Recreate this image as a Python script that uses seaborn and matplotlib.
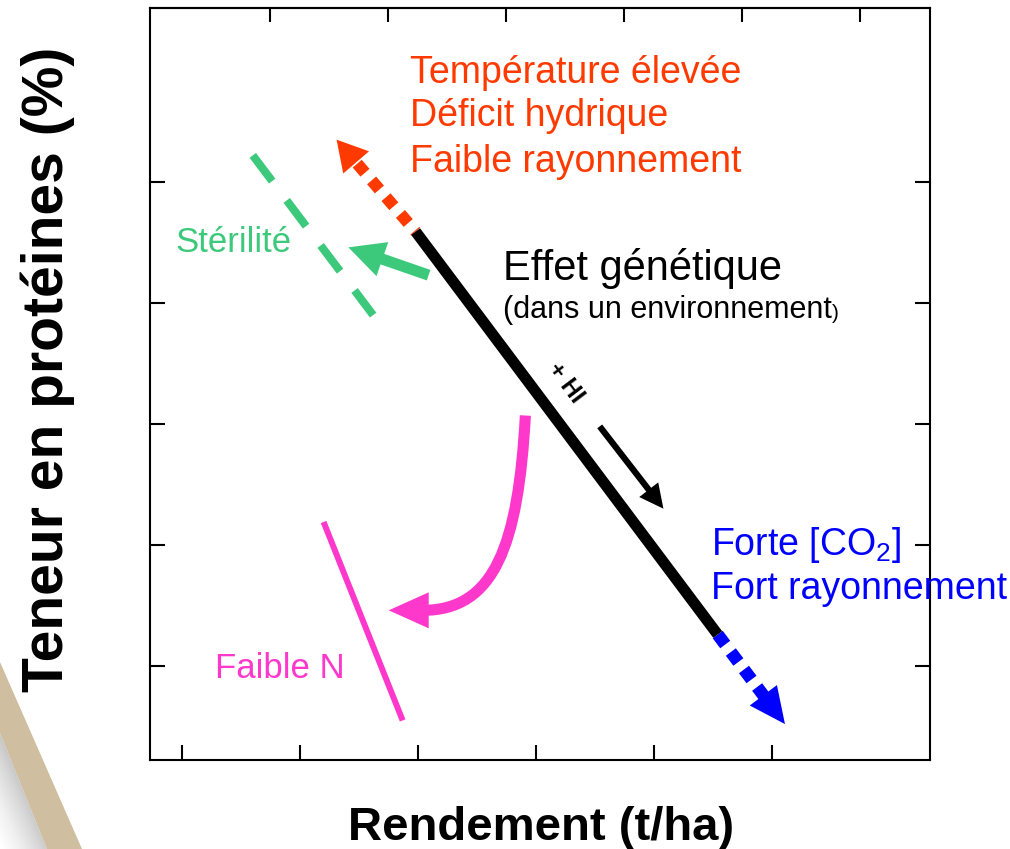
import numpy as np
import matplotlib
matplotlib.use("Agg")
import matplotlib.pyplot as plt
import seaborn as sns
from matplotlib.patches import Polygon, PathPatch
from matplotlib.path import Path

sns.set_style("ticks")
plt.rcParams['font.family'] = ['Liberation Sans', 'DejaVu Sans']
plt.rcParams['mathtext.fontset'] = 'custom'
plt.rcParams['mathtext.rm'] = 'Liberation Sans'
plt.rcParams['mathtext.it'] = 'Liberation Sans'
plt.rcParams['text.color'] = 'black'

# ---- data (conceptual diagram, arbitrary units) ----
x_ticks_bottom = [1, 2, 3, 4, 5, 6]
x_ticks_top = [1.75, 2.75, 3.75, 4.75, 5.75, 6.75]
y_ticks = [1, 2, 3, 4, 5]

# genetic effect: yield / protein trade-off
genetic_x = [2.98, 5.54]
genetic_y = [4.59, 1.26]
# unfavourable environment (red, dotted, up-left)
stress_x = [2.98, 2.31]
stress_y = [4.59, 5.35]
# favourable environment (blue, dotted, down-right)
favour_x = [5.54, 6.11]
favour_y = [1.26, 0.52]
# sterility (green)
sterility_x = [1.60, 2.62]
sterility_y = [5.22, 3.90]
sterility_arrow_x = [3.09, 2.41]
sterility_arrow_y = [4.23, 4.46]
# low N (pink)
low_n_x = [2.20, 2.87]
low_n_y = [2.19, 0.55]
low_n_curve_x = [3.91, 3.85, 3.65, 3.04]
low_n_curve_y = [3.07, 2.00, 1.46, 1.46]
# harvest index arrow
hi_x = [4.54, 5.08]
hi_y = [2.98, 2.30]

stress_labels = ["Température élevée", "Déficit hydrique", "Faible rayonnement"]
stress_label_y = [5.82, 5.46, 5.08]
favour_labels = ["Forte [CO$_2$]", "Fort rayonnement"]
favour_label_y = [1.92, 1.55]

RED = "#FF3A00"
GREEN = "#3CC97C"
PINK = "#FF38CC"
BLUE = "#0000FF"

fig = plt.figure(figsize=(10.1, 8.49), dpi=100)

# decorative band bottom-left (slide background)
bg = fig.add_axes([0, 0, 1, 1], zorder=0)
bg.set_xlim(0, 1010)
bg.set_ylim(849, 0)
bg.axis('off')
grey = Polygon([(0, 733), (47, 849), (0, 849)], closed=True, facecolor='none', edgecolor='none')
bg.add_patch(grey)
gx, gy = np.meshgrid(np.linspace(0, 50, 60), np.linspace(730, 849, 120))
dist = np.abs(187 * gx - 82 * (gy - 733)) / np.hypot(82, 187)
shade = bg.imshow(dist, extent=[0, 50, 849, 730], cmap='Greys_r', vmin=-90, vmax=45,
                  aspect='auto', interpolation='bilinear')
shade.set_clip_path(grey)
bg.add_patch(Polygon([(0, 662), (82, 849), (47, 849), (0, 733)], closed=True,
                     facecolor='#CFBE9F', edgecolor='none'))

ax = fig.add_axes([150 / 1010, 1 - 760 / 849, 780 / 1010, 752 / 849], zorder=1)
ax.set_xlim(0.729, 7.339)
ax.set_ylim(0.223, 6.438)


def to_px(p):
    return ax.transData.transform(p)


def to_data(p):
    return ax.transData.inverted().transform(p)


def arrow_head(tail, tip, color, length, width, z):
    t = to_px(tip)
    b = to_px(tail)
    u = (t - b) / np.hypot(*(t - b))
    n = np.array([-u[1], u[0]])
    base = t - u * length
    verts = to_data(np.array([t, base + n * width / 2, base - n * width / 2]))
    ax.add_patch(Polygon(verts, closed=True, facecolor=color, edgecolor='none', zorder=z))


def pulled_back(tail, tip, d):
    t = to_px(tip)
    b = to_px(tail)
    u = (t - b) / np.hypot(*(t - b))
    return to_data(t - u * d)


# genetic line
sns.lineplot(x=genetic_x, y=genetic_y, color='black', linewidth=8, sort=False,
             solid_capstyle='butt', ax=ax, zorder=5)

# red dotted extension + head
s_end = pulled_back((stress_x[0], stress_y[0]), (stress_x[1], stress_y[1]), 14)
ax.plot([stress_x[0], s_end[0]], [stress_y[0], s_end[1]], color=RED, lw=8.6,
        linestyle=(0.9, (1.0, 0.85)), dash_capstyle='butt', zorder=4)
arrow_head((stress_x[0], stress_y[0]), (stress_x[1], stress_y[1]), RED, 30, 34, 4)

# blue dotted extension + head
f_end = pulled_back((favour_x[0], favour_y[0]), (favour_x[1], favour_y[1]), 16)
ax.plot([favour_x[0], f_end[0]], [favour_y[0], f_end[1]], color=BLUE, lw=9,
        linestyle=(0, (1.0, 0.75)), dash_capstyle='butt', zorder=4)
arrow_head((favour_x[0], favour_y[0]), (favour_x[1], favour_y[1]), BLUE, 36, 34, 4)

# sterility dashed line + arrow
sns.lineplot(x=sterility_x, y=sterility_y, color=GREEN, linewidth=5.8, sort=False,
             linestyle=(0, (4, 3)), dash_capstyle='butt', ax=ax, zorder=3)
g_end = pulled_back((sterility_arrow_x[0], sterility_arrow_y[0]),
                    (sterility_arrow_x[1], sterility_arrow_y[1]), 18)
ax.plot([sterility_arrow_x[0], g_end[0]], [sterility_arrow_y[0], g_end[1]], color=GREEN,
        lw=8, solid_capstyle='butt', zorder=3)
arrow_head((sterility_arrow_x[0], sterility_arrow_y[0]),
           (sterility_arrow_x[1], sterility_arrow_y[1]), GREEN, 36, 36, 3)

# low N line + curved arrow
sns.lineplot(x=low_n_x, y=low_n_y, color=PINK, linewidth=4.3, sort=False,
             solid_capstyle='butt', ax=ax, zorder=3)
curve = Path(np.column_stack([low_n_curve_x, low_n_curve_y]),
             [Path.MOVETO, Path.CURVE4, Path.CURVE4, Path.CURVE4])
ax.add_patch(PathPatch(curve, facecolor='none', edgecolor=PINK, lw=8, capstyle='butt', zorder=3))
c_tail = (low_n_curve_x[2], low_n_curve_y[2])
c_base = to_px((low_n_curve_x[3], low_n_curve_y[3]))
c_dir = c_base - to_px(c_tail)
c_tip = to_data(c_base + c_dir / np.hypot(*c_dir) * 34)
arrow_head(c_tail, c_tip, PINK, 40, 36, 3)

# HI arrow
h_end = pulled_back((hi_x[0], hi_y[0]), (hi_x[1], hi_y[1]), 12)
ax.plot([hi_x[0], h_end[0]], [hi_y[0], h_end[1]], color='black', lw=4.5,
        solid_capstyle='butt', zorder=5)
arrow_head((hi_x[0], hi_y[0]), (hi_x[1], hi_y[1]), 'black', 24, 24, 5)
ax.text(4.25, 3.34, "+ HI", fontsize=17, fontweight='bold', rotation=-53,
        rotation_mode='anchor', ha='center', va='center', color='black')

# texts
for lab, yy in zip(stress_labels, stress_label_y):
    ax.text(2.93, yy, lab, color=RED, fontsize=27, ha='left', va='baseline')
for lab, yy in zip(favour_labels, favour_label_y):
    ax.text(5.48, yy, lab, color=BLUE, fontsize=27, ha='left', va='baseline', zorder=6)
ax.text(3.72, 4.19, "Effet génétique", color='black', fontsize=30, ha='left', va='baseline')
env = ax.text(3.72, 3.876, "(dans un environnement", color='black', fontsize=22,
              ha='left', va='baseline')
ax.annotate(")", xy=(1, 0.05), xycoords=env, fontsize=15, ha='left', va='bottom',
            color='black')
ax.text(0.94, 4.42, "Stérilité", color=GREEN, fontsize=25, ha='left', va='baseline')
ax.text(1.28, 0.90, "Faible N", color=PINK, fontsize=25, ha='left', va='baseline')

# axes styling
ax.set_xticks(x_ticks_bottom)
ax.set_yticks(y_ticks)
ax.tick_params(direction='in', length=10.5, width=1.5, left=True, right=True,
               bottom=True, top=False, labelleft=False, labelbottom=False, color='black')
sec = ax.secondary_xaxis('top')
sec.set_xticks(x_ticks_top)
sec.tick_params(direction='in', length=10, width=1.5, labeltop=False, color='black')
sec.spines['top'].set_linewidth(1.5)
sec.spines['top'].set_color('black')
for sp in ax.spines.values():
    sp.set_visible(True)
    sp.set_linewidth(1.5)
    sp.set_color('black')
ax.set_facecolor('white')

fig.text(48 / 1010, 1 - 369 / 849, "Teneur en protéines (%)", rotation=90, fontsize=41,
         fontweight='bold', ha='center', va='center', color='black')
fig.text(541 / 1010, 1 - 840 / 849, "Rendement (t/ha)", fontsize=34, fontweight='bold',
         ha='center', va='baseline', color='black')

fig.savefig("out.png", dpi=100)
